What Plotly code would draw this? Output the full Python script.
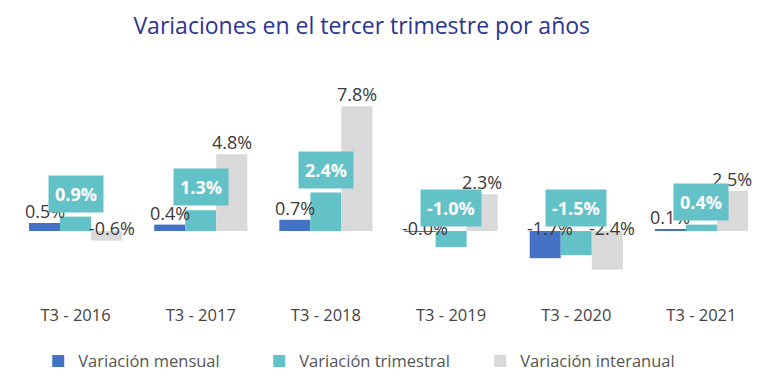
import plotly.graph_objects as go

categories = ["T3 - 2016", "T3 - 2017", "T3 - 2018", "T3 - 2019", "T3 - 2020", "T3 - 2021"]
mensual = [0.5, 0.4, 0.7, -0.04, -1.7, 0.1]
trimestral = [0.9, 1.3, 2.4, -1.0, -1.5, 0.4]
interanual = [-0.6, 4.8, 7.8, 2.3, -2.4, 2.5]

series = [
    ("Variación mensual", mensual, "#4472C4"),
    ("Variación trimestral", trimestral, "#62C2C7"),
    ("Variación interanual", interanual, "#D9D9D9"),
]

FONT = "Open Sans"
fig = go.Figure()
for name, vals, color in series:
    fig.add_trace(go.Bar(
        x=categories, y=vals, name=name, marker=dict(color=color, line=dict(width=0)),
        offsetgroup=name,
    ))

annotations = []
# plain labels for mensual (left bar) and interanual (right bar)
for idx, vals in ((0, mensual), (2, interanual)):
    xs = -31 if idx == 0 else 31
    for i, v in enumerate(vals):
        if v >= 0:
            annotations.append(dict(x=categories[i], y=v, xref="x", yref="y", text=f"{v:.1f}%",
                                    showarrow=False, yanchor="bottom", xshift=xs, yshift=-2,
                                    font=dict(family=FONT, size=18, color="#3a3a3a")))
        else:
            annotations.append(dict(x=categories[i], y=0, xref="x", yref="y", text=f"{v:.1f}%",
                                    showarrow=False, yanchor="middle", xshift=xs + 5, yshift=3,
                                    font=dict(family=FONT, size=18, color="#3a3a3a")))
# boxed labels for trimestral
for i, v in enumerate(trimestral):
    annotations.append(dict(x=categories[i], y=max(v, 0), xref="x", yref="y", text=f"<b>{v:.1f}%</b>",
                            showarrow=False, yanchor="bottom", yshift=4,
                            bgcolor="#62C2C7", borderpad=6,
                            font=dict(family=FONT, size=18, color="white")))

fig.update_layout(
    width=768, height=383,
    margin=dict(l=13, r=4, t=87, b=80),
    paper_bgcolor="white", plot_bgcolor="white",
    barmode="group", bargap=0.256, bargroupgap=0,
    title=dict(text="Variaciones en el tercer trimestre por años", x=0.471, xanchor="center",
               y=0.932, yref="container", yanchor="middle",
               font=dict(family=FONT, size=23, color="#2B3594")),
    xaxis=dict(showgrid=False, showline=False, zeroline=False, ticks="",
               tickfont=dict(family=FONT, size=16.5, color="#444444")),
    yaxis=dict(range=[-4.5, 9], visible=False, showgrid=False, zeroline=False),
    legend=dict(orientation="h", x=0.0336, xanchor="left", y=-0.27, yanchor="middle",
                font=dict(family=FONT, size=16.5, color="#555555"),
                itemwidth=30, traceorder="normal", entrywidth=176),
    annotations=annotations,
    showlegend=True,
)

fig.write_html("out.html", config={"displayModeBar": False},
               post_script="document.body.style.margin='0';")
